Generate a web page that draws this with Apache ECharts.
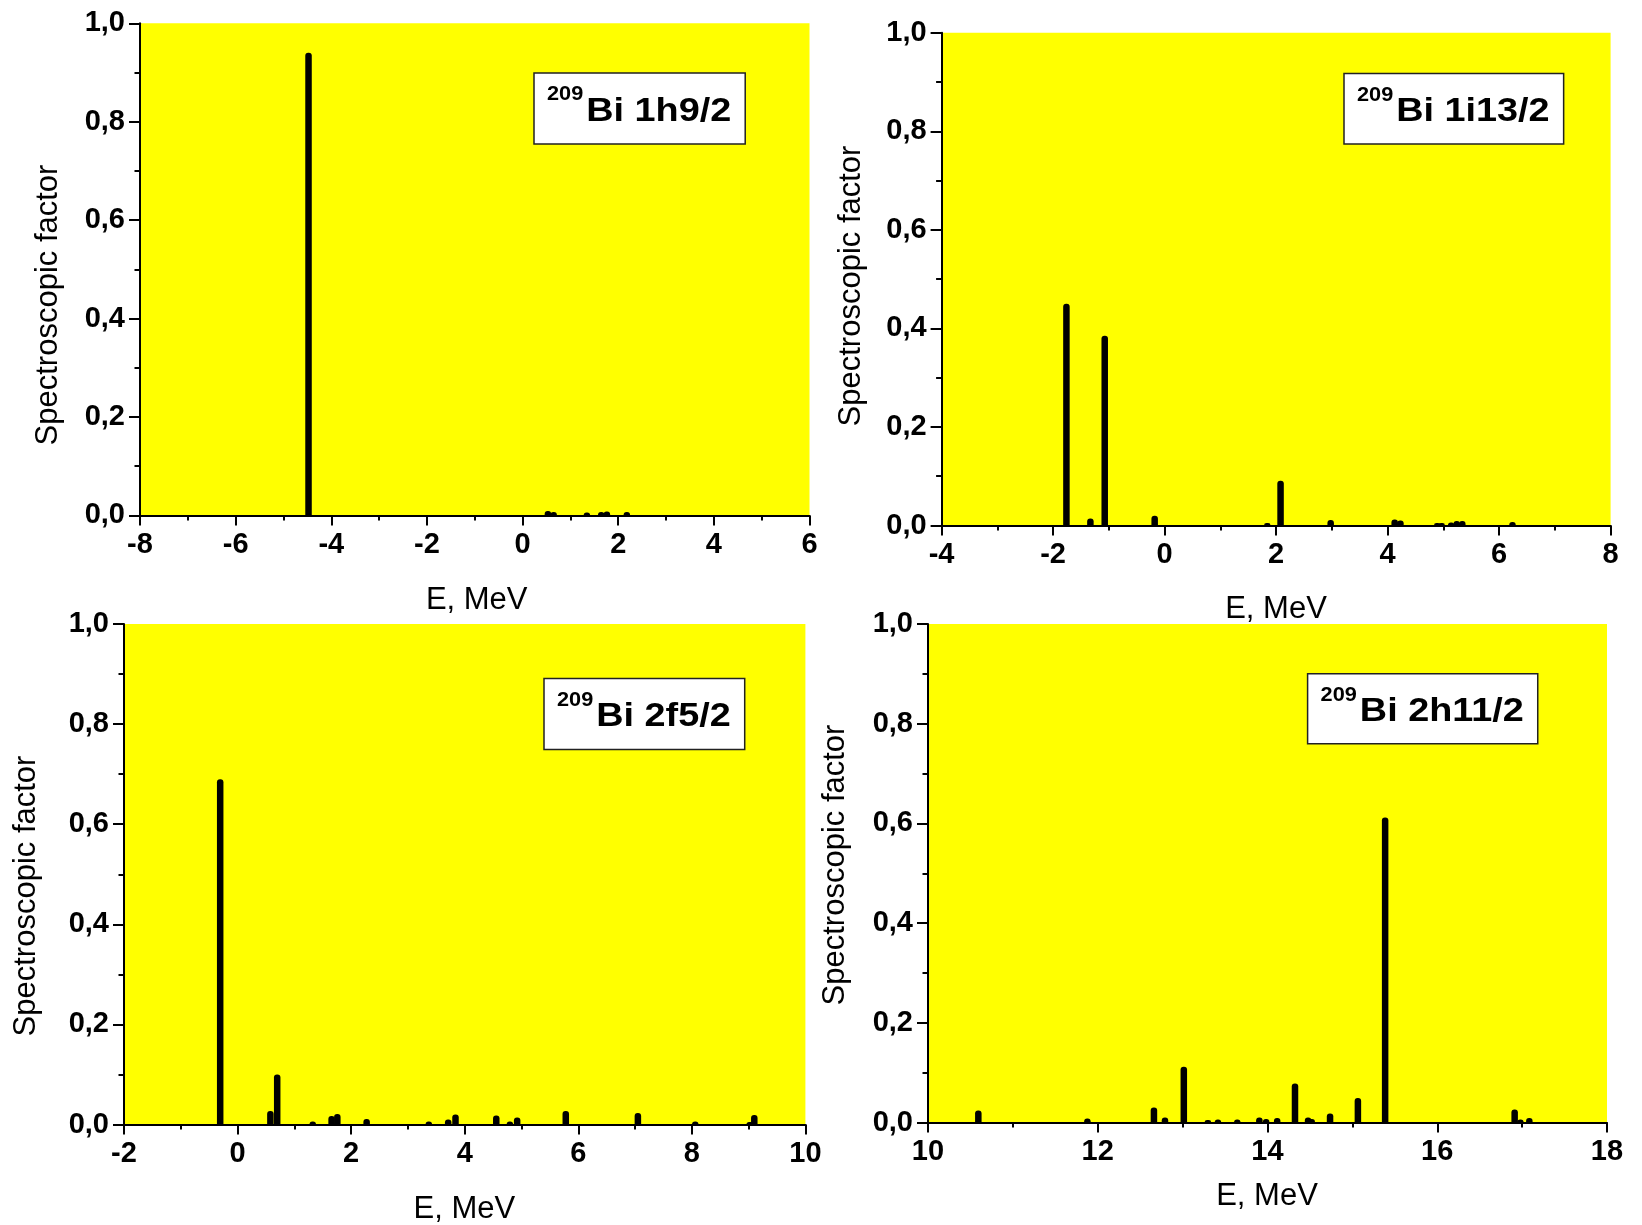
<!DOCTYPE html>
<html>
<head>
<meta charset="utf-8">
<title>209Bi spectroscopic factors</title>
<script src="https://cdn.jsdelivr.net/npm/echarts@6/dist/echarts.min.js"></script>
<style>
  html, body { margin: 0; padding: 0; background: #ffffff; }
  #chart { width: 1642px; height: 1225px; }
</style>
</head>
<body>
<div id="chart"></div>
<script>
// Strength distribution of single-particle states in 209Bi:
// excitation energy E (MeV) and spectroscopic factor of each fragment.

const nuclideMass = '209';
const nuclideSymbol = 'Bi';
const orbitals = ['1h9/2', '1i13/2', '2f5/2', '2h11/2'];

const energy1h92 = [-4.476, 0.53, 0.65, 1.345, 1.645, 1.763, 2.18];
const factor1h92 = [0.94, 0.009, 0.007, 0.006, 0.007, 0.008, 0.007];

const energy1i132 = [-1.761, -1.331, -1.074, -0.178, 1.842, 2.08, 2.979, 4.127, 4.23, 4.89, 4.97, 5.14, 5.24, 5.34, 6.24];
const factor1i132 = [0.450, 0.014, 0.385, 0.020, 0.005, 0.091, 0.011, 0.012, 0.010, 0.005, 0.005, 0.006, 0.009, 0.009, 0.007];

const energy2f52 = [-0.306, 0.578, 0.698, 1.324, 1.656, 1.757, 2.273, 3.368, 3.709, 3.838, 4.556, 4.796, 4.924, 5.78, 7.05, 8.06, 9.02, 9.10];
const factor2f52 = [0.690, 0.027, 0.100, 0.006, 0.017, 0.021, 0.011, 0.006, 0.010, 0.020, 0.018, 0.006, 0.014, 0.027, 0.023, 0.006, 0.005, 0.019];

const energy2h112 = [10.593, 11.878, 12.662, 12.792, 13.014, 13.298, 13.416, 13.644, 13.904, 13.984, 14.114, 14.324, 14.478, 14.521, 14.737, 15.065, 15.386, 16.912, 16.98, 17.085];
const factor2h112 = [0.024, 0.008, 0.030, 0.010, 0.112, 0.005, 0.006, 0.006, 0.010, 0.007, 0.009, 0.078, 0.010, 0.007, 0.018, 0.049, 0.612, 0.026, 0.006, 0.009];

// Energy axis ranges (min, max) of each panel; factor axis is 0..1
const energyRanges = [[-8, 6], [-4, 8], [-2, 10], [10, 18]];
const energyStep = 2;
const factorRange = [0, 1];
const factorStep = 0.2;

const xTitle = 'E, MeV';
const yTitle = 'Spectroscopic factor';

const energies = [energy1h92, energy1i132, energy2f52, energy2h112];
const factors = [factor1h92, factor1i132, factor2f52, factor2h112];

// ---- layout of the four panels (pixels) ----
const layouts = [
  { left: 140,   top: 23.3, width: 669.5, height: 492.1, yName: [48, 305],    xName: [476.7, 600], box: [534, 73, 71] },
  { left: 941.6, top: 32.8, width: 669,   height: 492.7, yName: [851, 286],   xName: [1276, 609],  box: [1344, 73.5, 70.5] },
  { left: 124,   top: 624,  width: 681.4, height: 500.5, yName: [26.5, 896],  xName: [464.4, 1209], box: [544, 678.5, 71] },
  { left: 928,   top: 624,  width: 679,   height: 498.5, yName: [835.5, 865], xName: [1267, 1196], box: [1307.6, 673.7, 70] }
];

const FONT = '"Liberation Sans", Arial, Helvetica, sans-serif';
const TICK_SIZE = 29;
const MAIN_SIZE = 32.5, MAIN_SCALE = 1.163;
const SUP_SIZE = 20.5, SUP_SCALE = 1.06;

const measureCtx = document.createElement('canvas').getContext('2d');
function textWidth(str, size) {
  measureCtx.font = 'bold ' + size + 'px ' + FONT;
  return measureCtx.measureText(str).width;
}

const axisLineStyle = { color: '#000', width: 2 };

const grids = [], xAxes = [], yAxes = [], series = [], graphics = [];

layouts.forEach((L, i) => {
  grids.push({
    left: L.left, top: L.top, width: L.width, height: L.height,
    show: true, backgroundColor: '#ffff00', borderWidth: 0,
    containLabel: false, outerBoundsMode: 'none'
  });

  xAxes.push({
    gridIndex: i, type: 'value',
    min: energyRanges[i][0], max: energyRanges[i][1], interval: energyStep,
    axisLine: { show: true, onZero: false, lineStyle: axisLineStyle },
    axisTick: { show: true, inside: false, length: 10, lineStyle: axisLineStyle },
    minorTick: { show: true, splitNumber: 2, length: 5, lineStyle: axisLineStyle },
    splitLine: { show: false }, minorSplitLine: { show: false },
    axisLabel: {
      show: true, margin: 15, color: '#000', fontSize: TICK_SIZE, fontWeight: 'bold', fontFamily: FONT,
      formatter: v => String(v)
    }
  });

  yAxes.push({
    gridIndex: i, type: 'value',
    min: factorRange[0], max: factorRange[1], interval: factorStep,
    axisLine: { show: true, onZero: false, lineStyle: axisLineStyle },
    axisTick: { show: true, inside: false, length: 11, lineStyle: axisLineStyle },
    minorTick: { show: true, splitNumber: 2, length: 5.5, lineStyle: axisLineStyle },
    splitLine: { show: false }, minorSplitLine: { show: false },
    axisLabel: {
      show: true, margin: 15, color: '#000', fontSize: TICK_SIZE, fontWeight: 'bold', fontFamily: FONT,
      formatter: v => v.toFixed(1).replace('.', ',')
    }
  });

  series.push({
    type: 'bar', xAxisIndex: i, yAxisIndex: i,
    barWidth: 6.5, silent: true,
    itemStyle: { color: '#000', borderRadius: [3, 3, 0, 0] },
    data: energies[i].map((e, k) => [e, factors[i][k]])
  });

  // axis titles
  graphics.push({
    type: 'text', x: L.xName[0], y: L.xName[1], silent: true,
    style: { text: xTitle, fill: '#000', font: '31px ' + FONT, align: 'center', verticalAlign: 'middle' }
  });
  graphics.push({
    type: 'text', x: L.yName[0], y: L.yName[1], rotation: Math.PI / 2, silent: true,
    style: { text: yTitle, fill: '#000', font: '31px ' + FONT, align: 'center', verticalAlign: 'middle' }
  });

  // state label box: superscript mass number followed by element and orbital
  const mainText = nuclideSymbol + ' ' + orbitals[i];
  const supW = textWidth(nuclideMass, SUP_SIZE) * SUP_SCALE;
  const mainW = textWidth(mainText, MAIN_SIZE) * MAIN_SCALE;
  const bx = L.box[0], by = L.box[1], bh = L.box[2];
  const padL = 13, gap = 3, padR = 14;
  const bw = padL + supW + gap + mainW + padR;
  graphics.push({
    type: 'rect', silent: true,
    shape: { x: bx, y: by, width: bw, height: bh },
    style: { fill: '#ffffff', stroke: '#222', lineWidth: 1.5 }
  });
  graphics.push({
    type: 'text', x: bx + padL, y: by + 21.4, scaleX: SUP_SCALE, silent: true,
    style: { text: nuclideMass, fill: '#000', font: 'bold ' + SUP_SIZE + 'px ' + FONT, align: 'left', verticalAlign: 'middle' }
  });
  graphics.push({
    type: 'text', x: bx + padL + supW + gap, y: by + 38.7, scaleX: MAIN_SCALE, silent: true,
    style: { text: mainText, fill: '#000', font: 'bold ' + MAIN_SIZE + 'px ' + FONT, align: 'left', verticalAlign: 'middle' }
  });
});

const chart = echarts.init(document.getElementById('chart'), null, { renderer: 'canvas' });
chart.setOption({
  backgroundColor: '#ffffff',
  animation: false,
  grid: grids,
  xAxis: xAxes,
  yAxis: yAxes,
  series: series,
  graphic: { elements: graphics }
});
</script>
</body>
</html>
